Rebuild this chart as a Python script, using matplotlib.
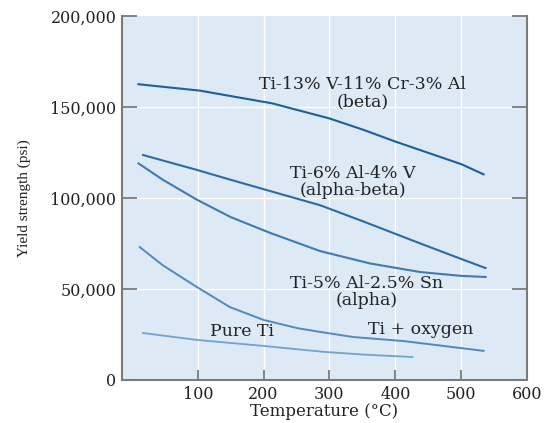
import matplotlib
matplotlib.use("Agg")
import matplotlib.pyplot as plt

# yield strength (psi) vs temperature (C)
beta_t = [10, 103, 213, 300, 352, 400, 450, 500, 534]
beta_y = [162500, 159000, 152000, 143700, 137400, 131000, 124800, 118600, 113000]

ab_t = [17, 99, 150, 210, 286, 350, 438, 500, 537]
ab_y = [123600, 115400, 110000, 103800, 96000, 87300, 75000, 66500, 61500]

alpha_t = [10, 47, 99, 150, 210, 286, 362, 438, 500, 537]
alpha_y = [119000, 110000, 99000, 89500, 80800, 70800, 64000, 59300, 57200, 56600]

oxy_t = [12, 47, 99, 149, 200, 251, 286, 336, 412, 489, 534]
oxy_y = [73000, 63000, 51000, 40000, 33000, 28500, 26400, 23600, 21400, 18000, 16000]

pure_t = [17, 99, 200, 290, 350, 426]
pure_y = [25800, 22000, 18700, 15500, 14000, 12600]

xticks = [100, 200, 300, 400, 500, 600]
yticks = [0, 50000, 100000, 150000, 200000]
ylabels = ["0", "50,000", "100,000", "150,000", "200,000"]

serif = "DejaVu Serif"
gray = "#7a7a7a"

fig = plt.figure(figsize=(5.44, 4.23), dpi=100)
ax = fig.add_axes([0.2243, 0.1017, 0.7445, 0.8605])
ax.set_facecolor("#dde9f5")

for x in [100, 200, 300, 400, 500]:
    ax.axvline(x, color="white", lw=1.0, zorder=1)
for y in [50000, 100000, 150000]:
    ax.axhline(y, color="white", lw=1.0, zorder=1)

ax.plot(beta_t, beta_y, color="#1f5f9c", lw=1.5, zorder=3)
ax.plot(ab_t, ab_y, color="#2d6aa8", lw=1.5, zorder=3)
ax.plot(alpha_t, alpha_y, color="#3f7ab4", lw=1.5, zorder=3)
ax.plot(oxy_t, oxy_y, color="#5289c0", lw=1.4, zorder=3)
ax.plot(pure_t, pure_y, color="#73a1d0", lw=1.3, zorder=3)

kw = dict(ha="center", va="center", fontsize=12.5, family=serif, color="#222222",
          multialignment="center", linespacing=1.05)
ax.text(350, 157700, "Ti-13% V-11% Cr-3% Al\n(beta)", **kw)
ax.text(335, 108800, "Ti-6% Al-4% V\n(alpha-beta)", **kw)
ax.text(356, 48400, "Ti-5% Al-2.5% Sn\n(alpha)", **kw)
ax.text(438, 28000, "Ti + oxygen", **kw)
ax.text(167, 26400, "Pure Ti", **kw)

ax.set_xlim(-15, 600)
ax.set_ylim(0, 200000)
ax.set_xticks(xticks)
ax.set_xticklabels([str(t) for t in xticks], family=serif, fontsize=11.5, color="#222222")
ax.set_yticks(yticks)
ax.set_yticklabels(ylabels, family=serif, fontsize=11.5, color="#222222")

ax.tick_params(axis="x", direction="in", length=7, width=1.3, color=gray, pad=4)
ax.tick_params(axis="y", direction="in", length=11, width=1.3, color=gray, pad=4,
               right=True)

ax.spines["top"].set_visible(False)
for s in ["left", "right", "bottom"]:
    ax.spines[s].set_color(gray)
    ax.spines[s].set_linewidth(1.5)

ax.set_xlabel("Temperature (°C)", family=serif, fontsize=12, color="#222222", labelpad=0)
ax.set_ylabel("Yield strength (psi)", family="Liberation Serif", fontsize=11,
              color="#222222", labelpad=14)

fig.savefig("out.png", dpi=100)
